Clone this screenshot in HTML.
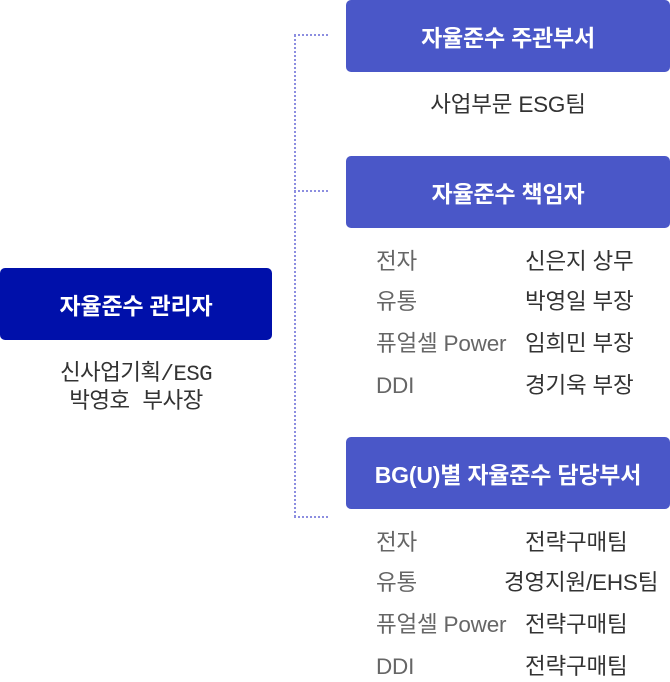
<!DOCTYPE html>
<html><head><meta charset="utf-8"><style>
body{margin:0;width:670px;height:678px;background:#fff;position:relative;font-family:"Liberation Sans","Noto Sans CJK KR",sans-serif;overflow:hidden}
.b{position:absolute;color:#fff;font-weight:bold;font-size:23px;display:flex;align-items:center;justify-content:center;border-radius:5px;letter-spacing:-0.2px}
.r{left:346px;width:324px;height:72px;background:#4a57c8}
.t{position:absolute;font-size:22.5px;line-height:30px;color:#333;white-space:nowrap;letter-spacing:-0.2px}
.g{color:#666;left:376px}
.d{left:525px}
.l{position:absolute;border-color:#8c8ee0;border-style:dotted;border-width:0}
</style></head><body>
<div class="b" style="left:0;top:268px;width:272px;height:72px;background:#0010aa">자율준수 관리자</div>
<div class="t" style="left:0;width:272px;text-align:center;top:360px;line-height:28px;font-family:'Liberation Mono','Noto Sans CJK KR',monospace;font-size:22.5px;letter-spacing:-0.6px">신사업기획/ESG<br>박영호 부사장</div>
<div class="l" style="left:294px;top:35px;height:482px;border-left-width:2px"></div>
<div class="l" style="left:294px;top:34px;width:34px;border-top-width:2px"></div>
<div class="l" style="left:294px;top:190px;width:34px;border-top-width:2px"></div>
<div class="l" style="left:294px;top:516px;width:34px;border-top-width:2px"></div>
<div class="b r" style="top:0">자율준수 주관부서</div>
<div class="t" style="left:346px;width:324px;text-align:center;top:90px">사업부문 ESG팀</div>
<div class="b r" style="top:156px">자율준수 책임자</div>
<div class="t g" style="top:247px">전자</div><div class="t d" style="top:247px">신은지 상무</div>
<div class="t g" style="top:287px">유통</div><div class="t d" style="top:287px">박영일 부장</div>
<div class="t g" style="top:329px">퓨얼셀 Power</div><div class="t d" style="top:329px">임희민 부장</div>
<div class="t g" style="top:371px">DDI</div><div class="t d" style="top:371px">경기욱 부장</div>
<div class="b r" style="top:437px">BG(U)별 자율준수 담당부서</div>
<div class="t g" style="top:528px">전자</div><div class="t d" style="top:528px">전략구매팀</div>
<div class="t g" style="top:568px">유통</div><div class="t" style="top:568px;left:504px">경영지원/EHS팀</div>
<div class="t g" style="top:610px">퓨얼셀 Power</div><div class="t d" style="top:610px">전략구매팀</div>
<div class="t g" style="top:652px">DDI</div><div class="t d" style="top:652px">전략구매팀</div>
</body></html>
